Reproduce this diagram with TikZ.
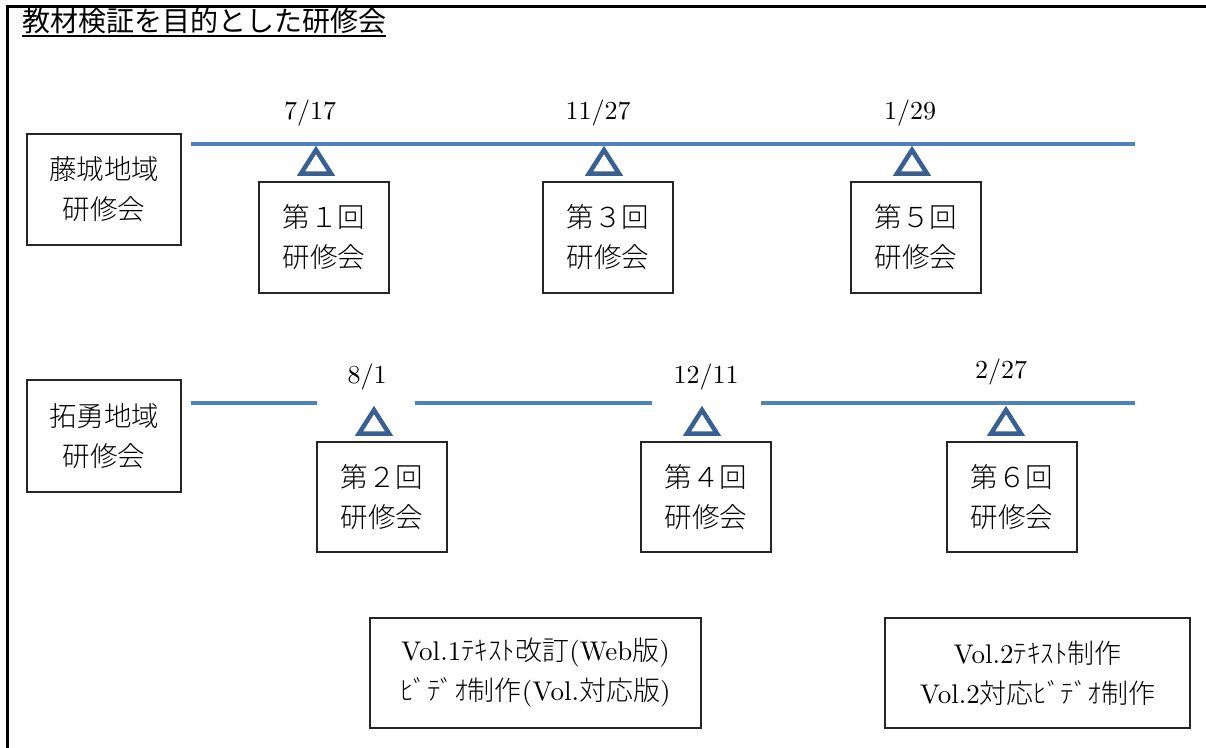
\documentclass[tikz,border=0pt]{standalone}
\usepackage{fontspec}
\newfontfamily\jpreg{Noto Sans CJK JP}
\IfFontExistsTF{Noto Sans CJK JP Light}
  {\newfontfamily\jp{Noto Sans CJK JP Light}}
  {\newfontfamily\jp{Noto Sans CJK JP}}
\newfontfamily\lmten{lmroman10-regular.otf}
\newcommand{\J}[1]{{\jp #1}}
\definecolor{tlblue}{RGB}{79,129,189}
\definecolor{triblue}{RGB}{56,96,146}
\begin{document}
\begin{tikzpicture}[x=1pt,y=-1pt,
  box/.style={draw=black!85, line width=1.1pt, inner sep=0pt, align=center, font=\jp\fontsize{27.5}{40}\selectfont},
  vbox/.style={draw=black!85, line width=1.1pt, inner sep=0pt, align=center, font=\lmten\fontsize{27}{40}\selectfont},
  datelbl/.style={font=\lmten\fontsize{26}{30}\selectfont, inner sep=0pt, anchor=base},
  tline/.style={tlblue, line width=3.5pt},
  trimark/.style={triblue, line width=4.5pt, line join=miter}]
\useasboundingbox (0,0) rectangle (1206,747);
% frame
\coordinate (fbl) at (7.5,750);
\coordinate (ftl) at (7.5,6.5);
\coordinate (ftr) at (1212,6.5);
\draw[line width=2.6pt] (fbl) -- (ftl) -- (ftr);
% title
\node[anchor=base west, inner sep=0pt, font=\jpreg\fontsize{28}{30}\selectfont] (title) at (22,31) {教材検証を目的とした研修会};
\draw[line width=1.4pt] ([yshift=-5pt]title.base west) -- ([yshift=-5pt]title.base east);
% region boxes
\node[box, minimum width=154, minimum height=111] (fuji) at (104,189.5) {藤城地域\\研修会};
\node[box, minimum width=154, minimum height=112] (taku) at (104,436) {拓勇地域\\研修会};
% session boxes
\node[box, minimum width=130, minimum height=111] (s1) at (324,237.5) {第１回\\研修会};
\node[box, minimum width=130, minimum height=111] (s3) at (608,237.5) {第３回\\研修会};
\node[box, minimum width=130, minimum height=111] (s5) at (916,237.5) {第５回\\研修会};
\node[box, minimum width=130, minimum height=110] (s2) at (382,497) {第２回\\研修会};
\node[box, minimum width=130, minimum height=110] (s4) at (706,497) {第４回\\研修会};
\node[box, minimum width=130, minimum height=110] (s6) at (1012,497) {第６回\\研修会};
% bottom boxes
\node[vbox, minimum width=331, minimum height=110] (va) at (535.5,673)
  {Vol.1\J{ﾃｷｽﾄ改訂}(Web\J{版})\\\J{ﾋﾞﾃﾞｵ制作}(Vol.\J{対応版})};
\node[vbox, minimum width=305, minimum height=110] (vb) at (1037.5,673)
  {Vol.2\J{ﾃｷｽﾄ制作}\\Vol.2\J{対応ﾋﾞﾃﾞｵ制作}};
% dates
\node[datelbl] (d1) at (310,119) {7/17};
\node[datelbl] (d3) at (598,119) {11/27};
\node[datelbl] (d5) at (910,119) {1/29};
\node[datelbl] (d2) at (367,383) {8/1};
\node[datelbl] (d4) at (706,383) {12/11};
\node[datelbl] (d6) at (1001,378) {2/27};
% timelines
\coordinate (r1a) at (191,144);
\coordinate (r1b) at (1135,144);
\draw[tline] (r1a) -- (r1b);
\coordinate (r2a) at (191,403);
\coordinate (r2b) at (317,403);
\coordinate (r2c) at (415,403);
\coordinate (r2d) at (652,403);
\coordinate (r2e) at (761,403);
\coordinate (r2f) at (1135,403);
\draw[tline] (r2a) -- (r2b);
\draw[tline] (r2c) -- (r2d);
\draw[tline] (r2e) -- (r2f);
% triangles
\foreach \x/\y in {316/150, 604/150, 912/150, 374/410, 702/410, 1006/410}
  \draw[trimark] (\x,\y) -- ++(-15,23.5) -- ++(30,0) -- cycle;
\end{tikzpicture}
\end{document}
